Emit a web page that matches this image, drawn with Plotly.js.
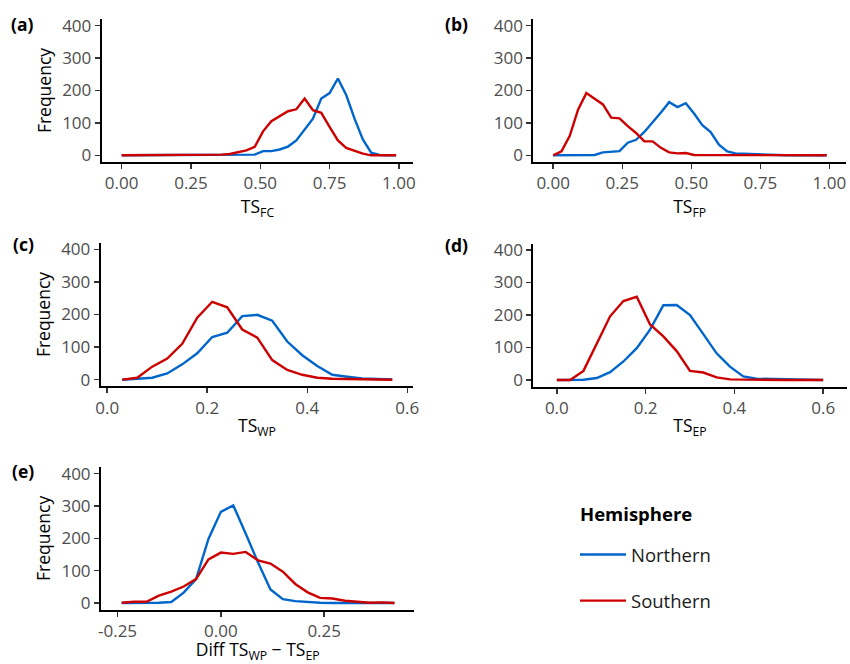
<!DOCTYPE html>
<html>
<head>
<meta charset="utf-8">
<script src="https://cdn.plot.ly/plotly-3.0.1.min.js"></script>
<style>html,body{margin:0;padding:0;background:#fff;}#chart{width:850px;height:664px;}</style>
</head>
<body>
<div id="chart"></div>
<script>
// ---- data ----
const xA = [0.00,0.03,0.06,0.09,0.12,0.15,0.18,0.21,0.24,0.27,0.30,0.33,0.36,0.39,0.42,0.45,0.48,0.51,0.54,0.57,0.60,0.63,0.66,0.69,0.72,0.75,0.78,0.81,0.84,0.87,0.90,0.93,0.96,0.99];
const northA = [0,0,0,0,0,0,0,0,0,0,0,0,0,0,1,1,2,13,13,18,27,46,80,113,175,192,237,186,113,49,8,1,0,0];
const southA = [0,0,0,0,0,0,0,0,0,0,0,1,2,4,10,15,26,74,105,121,136,142,175,139,131,88,46,23,15,5,0,0,0,0];

const xB = [0.00,0.03,0.06,0.09,0.12,0.15,0.18,0.21,0.24,0.27,0.30,0.33,0.36,0.39,0.42,0.45,0.48,0.51,0.54,0.57,0.60,0.63,0.66,0.69,0.72,0.75,0.78,0.81,0.84,0.87,0.90,0.93,0.96,0.99];
const northB = [0,0,0,0,0,1,9,12,13,39,48,72,101,132,164,149,161,129,93,72,33,12,6,5,2,1,0,0,0,0,0,0,0,0];
const southB = [0,12,60,141,192,174,157,116,114,90,69,43,43,23,9,6,7,1,1,0,0,0,0,0,0,0,0,0,0,0,0,0,0,0];

const xC = [0.03,0.06,0.09,0.12,0.15,0.18,0.21,0.24,0.27,0.30,0.33,0.36,0.39,0.42,0.45,0.48,0.51,0.54,0.57];
const northC = [0,2,6,19,47,81,131,144,195,199,181,117,75,42,15,9,4,2,1];
const southC = [0,6,40,65,110,190,239,222,154,129,60,30,15,6,3,2,1,0,0];

const xD = [0.00,0.03,0.06,0.09,0.12,0.15,0.18,0.21,0.24,0.27,0.30,0.33,0.36,0.39,0.42,0.45,0.48,0.51,0.54,0.57,0.60];
const northD = [0,0,1,6,24,57,98,155,230,231,200,141,82,41,11,4,3,2,1,0,0];
const southD = [0,0,28,112,196,243,256,171,134,89,28,23,8,2,1,0,0,0,0,0,0];

const xE = [-0.24,-0.21,-0.18,-0.15,-0.12,-0.09,-0.06,-0.03,0.00,0.03,0.06,0.09,0.12,0.15,0.18,0.21,0.24,0.27,0.30,0.33,0.36,0.39,0.42];
const northE = [0,0,0,1,3,32,74,198,282,302,215,125,42,12,6,3,1,0,0,0,0,0,0];
const southE = [1,4,4,23,35,51,74,135,156,152,158,132,122,97,59,33,16,14,7,4,1,2,0];

const yTicks = [0,100,200,300,400];
const xTicksAB = [0,0.25,0.5,0.75,1];
const xTickTextAB = ["0.00","0.25","0.50","0.75","1.00"];
const xTicksCD = [0,0.2,0.4,0.6];
const xTickTextCD = ["0.0","0.2","0.4","0.6"];
const xTicksE = [-0.25,0,0.25];
const xTickTextE = ["-0.25","0.00","0.25"];

const seriesNames = ["Northern","Southern"];
const legendTitle = "Hemisphere";
const panelLabels = ["(a)","(b)","(c)","(d)","(e)"];
const xTitles = ["TS<sub>FC</sub>","TS<sub>FP</sub>","TS<sub>WP</sub>","TS<sub>EP</sub>","Diff TS<sub>WP</sub> \u2212 TS<sub>EP</sub>"];

// ---- styling ----
const BLUE = "#0066CC", RED = "#CC0000";
const FONT = "Open Sans, Noto Sans, sans-serif";
const W = 850, H = 664;
const dx = (a,b) => [a/W, b/W];
const dy = (top,bottom) => [1-bottom/H, 1-top/H];

const panels = [
  {x:xA, n:northA, s:southA, xd:dx(101.7,413.3), yd:dy(19.2,161.8), xr:[-0.072,1.052], tv:xTicksAB, tt:xTickTextAB, ytitle:true, lab:[22,24], so:2},
  {x:xB, n:northB, s:southB, xd:dx(533.3,846), yd:dy(19.2,161.8), xr:[-0.072,1.06], tv:xTicksAB, tt:xTickTextAB, ytitle:false, lab:[457,24], so:2},
  {x:xC, n:northC, s:southC, xd:dx(100.7,413.3), yd:dy(242.8,386.2), xr:[-0.013,0.612], tv:xTicksCD, tt:xTickTextCD, ytitle:true, lab:[23,244], so:2},
  {x:xD, n:northD, s:southD, xd:dx(533.3,846.7), yd:dy(243.5,386.5), xr:[-0.053,0.653], tv:xTicksCD, tt:xTickTextCD, ytitle:false, lab:[457,245], so:2},
  {x:xE, n:northE, s:southE, xd:dx(101,414.3), yd:dy(467.2,609.5), xr:[-0.29,0.468], tv:xTicksE, tt:xTickTextE, ytitle:true, lab:[23,471], so:4}
];

const traces = [];
const layout = {
  width: W, height: H,
  margin: {l:0, r:0, t:0, b:0},
  paper_bgcolor: "#fff", plot_bgcolor: "#fff",
  font: {family: FONT, color: "#000"},
  showlegend: true,
  legend: {
    x: 575/W, y: 1-536/H, xanchor: "left", yanchor: "top",
    font: {size: 18.5, family: FONT, color: "#1a1a1a"},
    traceorder: "grouped", tracegroupgap: 19, itemwidth: 46,
    bgcolor: "rgba(0,0,0,0)"
  },
  annotations: [{xref:"paper", yref:"paper", x:578/W, y:1-513/H, xanchor:"left", yanchor:"middle",
    showarrow:false, text:"<b>"+legendTitle+"</b>", font:{size:18.5, family:FONT, color:"#000"}}]
};

panels.forEach((p, i) => {
  const k = i === 0 ? "" : String(i+1);
  traces.push({type:"scatter", mode:"lines", x:p.x, y:p.n, name:seriesNames[0], legendgroup:"N",
    showlegend: i===0, line:{color:BLUE, width:2.4}, xaxis:"x"+k, yaxis:"y"+k});
  traces.push({type:"scatter", mode:"lines", x:p.x, y:p.s, name:seriesNames[1], legendgroup:"S",
    showlegend: i===0, line:{color:RED, width:2.4}, xaxis:"x"+k, yaxis:"y"+k});
  const common = {showgrid:false, zeroline:false, showline:true, linecolor:"#000", linewidth:2,
    ticks:"outside", ticklen:5, tickwidth:1.5, tickcolor:"#333",
    tickfont:{size:17, family:FONT, color:"#4D4D4D"}, fixedrange:true};
  layout["xaxis"+k] = Object.assign({}, common, {
    domain:p.xd, anchor:"y"+k, range:p.xr, tickmode:"array", tickvals:p.tv, ticktext:p.tt,
    title:{text:xTitles[i], font:{size:17.5, family:FONT, color:"#000"}, standoff:p.so}
  });
  layout["yaxis"+k] = Object.assign({}, common, {
    domain:p.yd, anchor:"x"+k, range:[-20,420], tickmode:"array", tickvals:yTicks,
    title: p.ytitle ? {text:"Frequency", font:{size:17.5, family:FONT, color:"#000"}, standoff:6} : {text:""}
  });
  layout.annotations.push({xref:"paper", yref:"paper", x:p.lab[0]/W, y:1-p.lab[1]/H,
    xanchor:"center", yanchor:"middle", showarrow:false, text:"<b>"+panelLabels[i]+"</b>",
    font:{size:17.5, family:FONT, color:"#000"}});
});

Plotly.newPlot("chart", traces, layout, {staticPlot:true, displayModeBar:false});
</script>
</body>
</html>
